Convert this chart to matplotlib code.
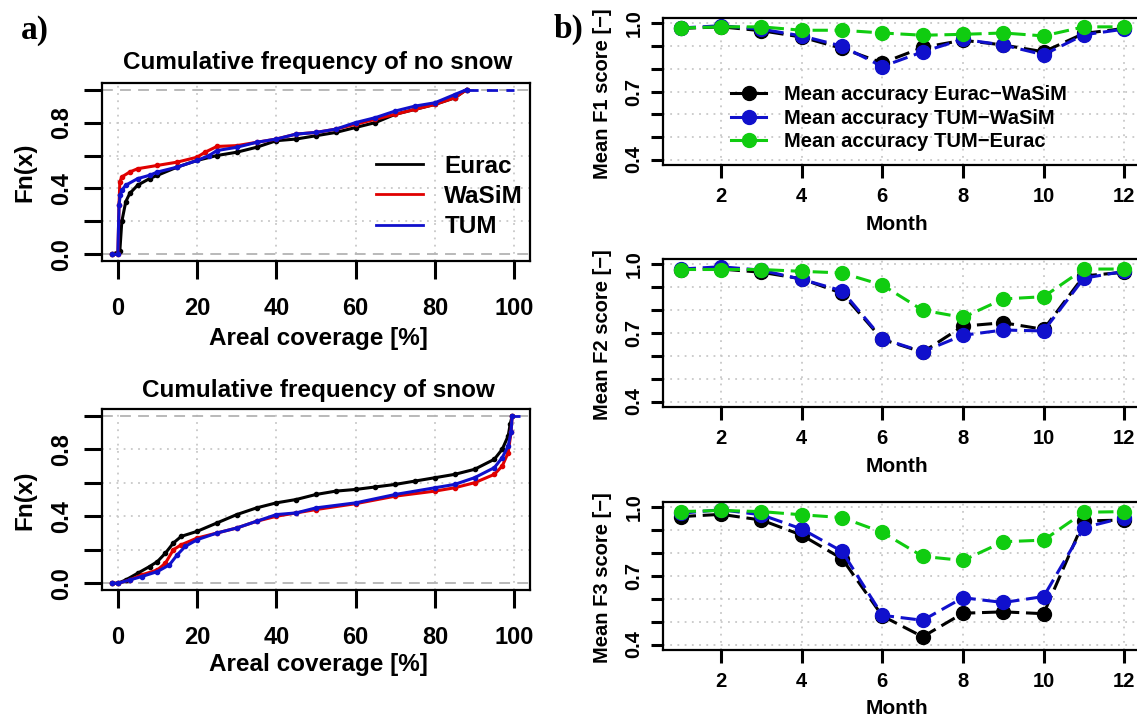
import matplotlib
matplotlib.use("Agg")
import matplotlib.pyplot as plt

plt.rcParams["font.family"] = ["Liberation Sans", "DejaVu Sans"]
plt.rcParams["font.weight"] = "bold"

# ---- left: ECDF of areal coverage
ns_eurac_x = [-1.5, 0.5, 1, 2, 3, 5, 8, 10, 15, 20, 25, 30, 35, 40, 45, 50, 55, 60, 65, 70, 75, 80, 85, 88]
ns_eurac_y = [0, 0.02, 0.2, 0.32, 0.37, 0.42, 0.46, 0.48, 0.53, 0.57, 0.6, 0.62, 0.65, 0.69, 0.7, 0.72, 0.74, 0.77, 0.8, 0.85, 0.88, 0.91, 0.95, 1.0]
ns_wasim_x = [-1.5, 0, 0.3, 0.5, 1, 3, 5, 10, 15, 20, 22, 25, 30, 35, 40, 45, 50, 55, 60, 65, 70, 75, 80, 85, 88]
ns_wasim_y = [0, 0, 0.3, 0.44, 0.47, 0.5, 0.52, 0.54, 0.56, 0.59, 0.62, 0.655, 0.66, 0.68, 0.7, 0.73, 0.74, 0.76, 0.79, 0.82, 0.85, 0.88, 0.91, 0.95, 1.0]
ns_tum_x = [-1.5, 0, 0.3, 0.6, 1, 2, 5, 8, 10, 15, 20, 23, 25, 30, 35, 40, 45, 50, 55, 60, 65, 70, 75, 80, 85, 88]
ns_tum_y = [0, 0, 0.3, 0.36, 0.39, 0.42, 0.46, 0.48, 0.5, 0.53, 0.57, 0.6, 0.63, 0.65, 0.68, 0.7, 0.73, 0.74, 0.76, 0.8, 0.83, 0.87, 0.9, 0.92, 0.97, 1.0]

sn_eurac_x = [-1.5, 0, 2, 5, 8, 10, 12, 14, 16, 20, 25, 30, 35, 40, 45, 50, 55, 60, 65, 70, 75, 80, 85, 90, 95, 97, 98.5, 99, 99.5]
sn_eurac_y = [0, 0, 0.02, 0.06, 0.1, 0.13, 0.18, 0.24, 0.28, 0.31, 0.36, 0.41, 0.45, 0.48, 0.5, 0.53, 0.55, 0.56, 0.575, 0.59, 0.61, 0.63, 0.65, 0.68, 0.74, 0.8, 0.88, 0.95, 1.0]
sn_wasim_x = [-1.5, 0, 3, 6, 10, 12, 14, 16, 20, 25, 30, 35, 40, 45, 50, 60, 70, 80, 85, 90, 95, 97, 98.5, 99.2, 99.5]
sn_wasim_y = [0, 0, 0.02, 0.05, 0.08, 0.12, 0.2, 0.23, 0.27, 0.3, 0.33, 0.37, 0.4, 0.42, 0.44, 0.475, 0.52, 0.55, 0.57, 0.6, 0.65, 0.7, 0.78, 0.9, 1.0]
sn_tum_x = [-1.5, 0, 3, 6, 10, 13, 15, 17, 20, 25, 30, 35, 40, 45, 50, 60, 70, 80, 85, 90, 95, 97, 98.5, 99.2, 99.5]
sn_tum_y = [0, 0, 0.02, 0.04, 0.07, 0.11, 0.17, 0.22, 0.26, 0.3, 0.33, 0.37, 0.41, 0.42, 0.45, 0.48, 0.53, 0.57, 0.59, 0.63, 0.69, 0.75, 0.82, 0.9, 1.0]

model_names = ["Eurac", "WaSiM", "TUM"]
model_colors = ["black", "#e00000", "#1010cc"]

# ---- right: monthly mean scores
months = list(range(1, 13))
f1_eurac_wasim = [0.978, 0.985, 0.968, 0.94, 0.89, 0.826, 0.894, 0.926, 0.905, 0.875, 0.956, 0.978]
f1_tum_wasim = [0.98, 0.99, 0.975, 0.945, 0.90, 0.81, 0.875, 0.93, 0.905, 0.862, 0.95, 0.975]
f1_tum_eurac = [0.98, 0.985, 0.985, 0.97, 0.97, 0.958, 0.948, 0.952, 0.958, 0.945, 0.985, 0.985]

f2_eurac_wasim = [0.978, 0.98, 0.966, 0.937, 0.874, 0.672, 0.616, 0.73, 0.745, 0.716, 0.95, 0.966]
f2_tum_wasim = [0.98, 0.99, 0.975, 0.935, 0.885, 0.675, 0.618, 0.69, 0.713, 0.709, 0.94, 0.97]
f2_tum_eurac = [0.978, 0.978, 0.978, 0.97, 0.963, 0.91, 0.80, 0.768, 0.849, 0.859, 0.98, 0.98]

f3_eurac_wasim = [0.96, 0.97, 0.945, 0.879, 0.776, 0.525, 0.434, 0.537, 0.543, 0.535, 0.941, 0.945]
f3_tum_wasim = [0.975, 0.99, 0.968, 0.906, 0.808, 0.528, 0.506, 0.605, 0.584, 0.61, 0.912, 0.956]
f3_tum_eurac = [0.982, 0.987, 0.982, 0.968, 0.956, 0.891, 0.786, 0.768, 0.85, 0.857, 0.979, 0.982]

pair_names = ["Mean accuracy Eurac\u2212WaSiM", "Mean accuracy TUM\u2212WaSiM", "Mean accuracy TUM\u2212Eurac"]
pair_colors = ["black", "#1010cc", "#10cc10"]

W, H = 1137, 721
fig = plt.figure(figsize=(W / 100, H / 100), dpi=100)


def box(l, t, r, b):
    return [l / W, 1 - b / H, (r - l) / W, (b - t) / H]


dotted = dict(color="#c8c8c8", linestyle=(0, (1, 3)), linewidth=1.3)

# ================= left column =================
left_panels = [
    (box(102, 83, 530, 261), "Cumulative frequency of no snow",
     [(ns_eurac_x, ns_eurac_y), (ns_wasim_x, ns_wasim_y), (ns_tum_x, ns_tum_y)]),
    (box(102, 409, 530, 590), "Cumulative frequency of snow",
     [(sn_eurac_x, sn_eurac_y), (sn_wasim_x, sn_wasim_y), (sn_tum_x, sn_tum_y)]),
]

for i, (pos, title, curves) in enumerate(left_panels):
    ax = fig.add_axes(pos)
    ax.set_xlim(-4, 104)
    ax.set_ylim(-0.04, 1.04)
    for gx in range(0, 101, 20):
        ax.axvline(gx, **dotted, zorder=0)
    for gy in [0.2, 0.4, 0.6, 0.8]:
        ax.axhline(gy, **dotted, zorder=0)
    ax.axhline(0, color="#b3b3b3", linestyle=(0, (6, 4)), linewidth=1.3, zorder=0)
    ax.axhline(1, color="#b3b3b3", linestyle=(0, (6, 4)), linewidth=1.3, zorder=0)
    for (xs, ys), name, col in zip(curves, model_names, model_colors):
        ax.plot(xs, ys, color=col, lw=2.2, marker="o", ms=3.0, label=name)
    # right-hand extension of the last curve at Fn = 1
    ax.hlines(1, curves[-1][0][-1], 100 if i == 0 else 101.5, color=model_colors[-1],
              lw=2.0, linestyle=(0, (4, 3)))
    ax.set_xticks(range(0, 101, 20))
    ax.set_yticks([0, 0.2, 0.4, 0.6, 0.8, 1.0])
    ax.set_yticklabels(["0.0", "", "0.4", "", "0.8", ""], rotation=90, va="center")
    ax.tick_params(axis="both", length=13, width=2.2, labelsize=17)
    ax.tick_params(axis="x", pad=13)
    ax.tick_params(axis="y", pad=8)
    for s in ax.spines.values():
        s.set_linewidth(1.6)
    if i == 0:
        leg = ax.legend(loc="upper left", bbox_to_anchor=(0.59, 0.72), frameon=False,
                        fontsize=17.5, handlelength=1.9, handletextpad=0.9, labelspacing=0.3,
                        markerscale=0)
        for h in leg.legend_handles:
            h.set_linewidth(2.0)

fig.text(318 / W, 1 - 63 / H, "Cumulative frequency of no snow", ha="center", va="center", fontsize=17.5)
fig.text(318 / W, 1 - 390 / H, "Cumulative frequency of snow", ha="center", va="center", fontsize=17.5)
fig.text(318 / W, 1 - 338 / H, "Areal coverage [%]", ha="center", va="center", fontsize=17.5)
fig.text(318 / W, 1 - 664 / H, "Areal coverage [%]", ha="center", va="center", fontsize=17.5)
fig.text(25 / W, 1 - 172 / H, "Fn(x)", ha="center", va="center", rotation=90, fontsize=17.5)
fig.text(25 / W, 1 - 500 / H, "Fn(x)", ha="center", va="center", rotation=90, fontsize=17.5)

# ================= right column =================
right_panels = [
    (box(663, 18, 1142, 165), "Mean F1 score [\u2212]", [f1_eurac_wasim, f1_tum_wasim, f1_tum_eurac], 225),
    (box(663, 259, 1142, 407), "Mean F2 score [\u2212]", [f2_eurac_wasim, f2_tum_wasim, f2_tum_eurac], 467),
    (box(663, 502, 1142, 650), "Mean F3 score [\u2212]", [f3_eurac_wasim, f3_tum_wasim, f3_tum_eurac], 708),
]

for i, (pos, ylab, series, month_y) in enumerate(right_panels):
    ax = fig.add_axes(pos)
    ax.set_xlim(0.56, 12.44)
    ax.set_ylim(0.376, 1.024)
    for gx in range(2, 13, 2):
        ax.axvline(gx, **dotted, zorder=0)
    for gy in [0.4, 0.5, 0.6, 0.7, 0.8, 0.9, 1.0]:
        ax.axhline(gy, **dotted, zorder=0)
    for vals, name, col in zip(series, pair_names, pair_colors):
        ax.plot(months, vals, color=col, lw=2.2, dashes=(5, 2.2), marker="o", ms=10,
                label=name)
    ax.set_xticks(range(2, 13, 2))
    ax.set_yticks([0.4, 0.5, 0.6, 0.7, 0.8, 0.9, 1.0])
    ax.set_yticklabels(["0.4", "", "", "0.7", "", "", "1.0"], rotation=90, va="center")
    ax.tick_params(axis="both", length=9, width=2.2, labelsize=14.5)
    ax.tick_params(axis="x", pad=7)
    ax.tick_params(axis="y", pad=5)
    for s in ax.spines.values():
        s.set_linewidth(1.6)
    bb = pos
    fig.text(897 / W, 1 - month_y / H, "Month", ha="center", va="center", fontsize=15)
    fig.text(602 / W, bb[1] + bb[3] / 2 - 2 / H, ylab, ha="center", va="center",
             rotation=90, fontsize=14.5)
    if i == 0:
        leg = ax.legend(loc="upper left", bbox_to_anchor=(0.105, 0.665), frameon=False,
                        fontsize=14.5, handlelength=1.7, handletextpad=0.9,
                        labelspacing=0.22)
        for h in leg.legend_handles:
            h.set_linestyle("-")

fig.text(35 / W, 1 - 30 / H, "a)", family="Liberation Serif", fontweight="bold",
         fontsize=24, ha="center", va="center")
fig.text(569 / W, 1 - 29 / H, "b)", family="Liberation Serif", fontweight="bold",
         fontsize=24, ha="center", va="center")

fig.savefig("out.png", dpi=100)
